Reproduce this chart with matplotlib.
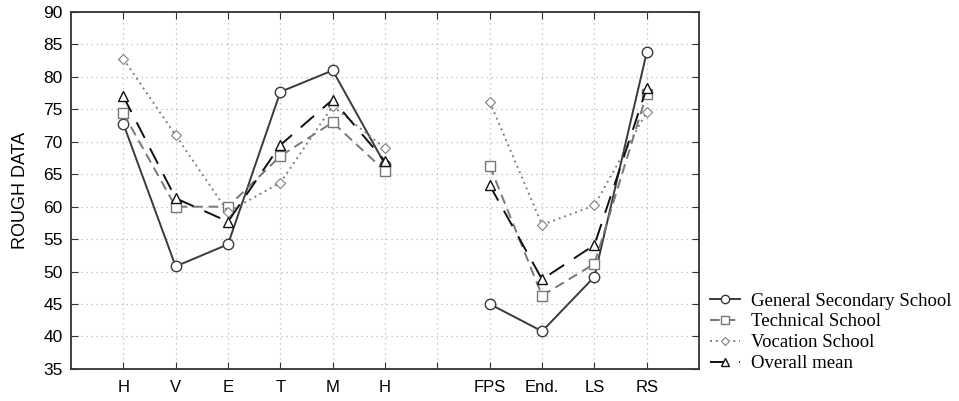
import matplotlib.pyplot as plt
import numpy as np

# Categories (position 7 is left empty as a gap)
categories = ['H', 'V', 'E', 'T', 'M', 'H', '', 'FPS', 'End.', 'LS', 'RS']
x_left = [1, 2, 3, 4, 5, 6]
x_right = [8, 9, 10, 11]

# Series values: first 6 are H..H, last 4 are FPS..RS
general = [72.8, 50.8, 54.2, 77.7, 81.0, 66.5, 45.0, 40.8, 49.2, 83.8]
technical = [74.4, 60.0, 60.0, 67.8, 73.0, 65.5, 66.3, 46.3, 51.2, 77.4]
vocation = [82.8, 71.0, 59.2, 63.7, 75.5, 69.0, 76.2, 57.2, 60.2, 74.6]
overall = [77.0, 61.3, 57.7, 69.5, 76.5, 67.0, 63.3, 48.8, 54.1, 78.3]

fig = plt.figure(figsize=(9.59, 4.01), dpi=100)
ax = fig.add_axes([0.074, 0.080, 0.655, 0.890])

styles = [
    ('General Secondary School', general,
     dict(color='#3a3a3a', linestyle='-', linewidth=1.4, marker='o', markersize=7.5,
          markerfacecolor='white', markeredgecolor='#3a3a3a', markeredgewidth=1.0)),
    ('Technical School', technical,
     dict(color='#777777', linestyle=(0, (5, 3)), linewidth=1.4, marker='s', markersize=7.5,
          markerfacecolor='white', markeredgecolor='#777777', markeredgewidth=1.0)),
    ('Vocation School', vocation,
     dict(color='#808080', linestyle=(0, (1, 2)), linewidth=1.4, marker='D', markersize=5,
          markerfacecolor='white', markeredgecolor='#808080', markeredgewidth=0.8)),
    ('Overall mean', overall,
     dict(color='#111111', linestyle=(0, (9, 6)), linewidth=1.4, marker='^', markersize=7.5,
          markerfacecolor='white', markeredgecolor='#111111', markeredgewidth=1.0)),
]

for label, vals, kw in styles:
    ax.plot(x_left, vals[:6], label=label, **kw)
    ax.plot(x_right, vals[6:], **kw)

ax.set_xlim(0, 12)
ax.set_ylim(35, 90)
ax.set_xticks(range(1, 12))
ax.set_xticklabels(categories, fontname='Liberation Sans', fontsize=12)
ax.set_yticks(np.arange(35, 91, 5))
for t in ax.get_yticklabels():
    t.set_fontname('Liberation Sans')
    t.set_fontsize(12.5)
ax.tick_params(direction='in', top=True, right=True, length=5, color='#333333')
ax.tick_params(axis='x', pad=8)
ax.tick_params(axis='y', pad=6)
ax.grid(True, linestyle=(0, (1, 3)), color='#b8b8b8', linewidth=0.9)
ax.set_axisbelow(True)
for s in ax.spines.values():
    s.set_color('#333333')
    s.set_linewidth(1.3)

ax.set_ylabel('ROUGH DATA', fontname='Liberation Sans', fontsize=13, labelpad=10)

ax.legend(loc='lower left', bbox_to_anchor=(1.005, -0.03), frameon=False,
          prop={'family': 'Liberation Serif', 'size': 13.5}, handlelength=1.6,
          handletextpad=0.6, labelspacing=0.2, borderaxespad=0, markerscale=0.8)

fig.savefig('out.png', dpi=100)
